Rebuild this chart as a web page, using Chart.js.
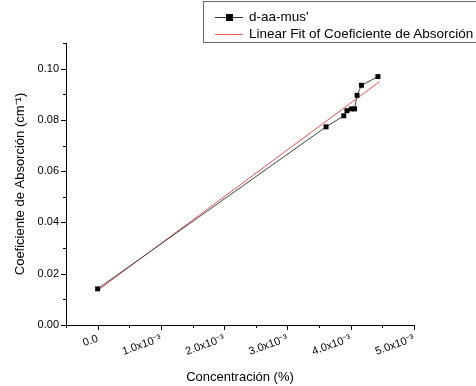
<!DOCTYPE html>
<html>
<head>
<meta charset="utf-8">
<script src="https://cdn.jsdelivr.net/npm/chart.js@4.4.1/dist/chart.umd.min.js"></script>
<style>
  body { margin: 0; background: #fff; font-family: "Liberation Sans", Arial, sans-serif; }
  #wrap { position: relative; width: 476px; height: 386px; }
  #legend { position: absolute; left: 203px; top: 1px; width: 290px; height: 40px; border: 1px solid #666; font-size: 13.5px; color: #000; }
  .row { position: absolute; left: 11px; height: 16px; line-height: 16px; }
  .sample { position: absolute; left: 0; top: 8px; width: 28px; height: 1px; }
  .sq { position: absolute; left: 11px; top: 5px; width: 7px; height: 7px; background: #000; }
  .lbl { position: absolute; left: 34px; top: 0; white-space: nowrap; }
</style>
</head>
<body>
<div id="wrap">
  <canvas id="chart" width="476" height="386"></canvas>
  <div id="legend">
    <div class="row" style="top:7px"><div class="sample" style="background:#333"></div><div class="sq"></div><div class="lbl">d-aa-mus'</div></div>
    <div class="row" style="top:24px"><div class="sample" style="background:#f06060"></div><div class="lbl">Linear Fit of Coeficiente de Absorción</div></div>
  </div>
</div>
<script>
// datos
const concentracion = [0, 0.00361, 0.00389, 0.00394, 0.00401, 0.00406, 0.00410, 0.00417, 0.00443];
const absorcion = [0.0141, 0.0773, 0.0816, 0.0836, 0.0843, 0.0843, 0.0896, 0.0935, 0.0969];
const ajusteX = [0, 0.00445];
const ajusteY = [0.0135, 0.0948];
const xTickLabels = { 0: "0.0", 1: "1.0x10⁻³", 2: "2.0x10⁻³", 3: "3.0x10⁻³", 4: "4.0x10⁻³", 5: "5.0x10⁻³" };

const font = "'Liberation Sans', Arial, sans-serif";

// marcas de ejes: mayores largas, menores cortas
const tickMarks = {
    id: "tickMarks",
    afterDraw(chart) {
        const ctx = chart.ctx;
        const xs = chart.scales.x, ys = chart.scales.y;
        ctx.save();
        ctx.strokeStyle = "#000";
        ctx.lineWidth = 1;
        ctx.beginPath();
        xs.ticks.forEach(t => {
            const k = Math.round(t.value / 0.0005);
            const px = Math.round(xs.getPixelForValue(t.value)) + 0.5;
            const len = k % 2 === 0 ? 5 : 3;
            ctx.moveTo(px, ys.bottom);
            ctx.lineTo(px, ys.bottom + len);
        });
        ys.ticks.forEach(t => {
            const k = Math.round(t.value / 0.01);
            const py = Math.round(ys.getPixelForValue(t.value)) + 0.5;
            const len = k % 2 === 0 ? 5 : 3;
            ctx.moveTo(xs.left, py);
            ctx.lineTo(xs.left - len, py);
        });
        ctx.stroke();
        ctx.restore();
    }
};

new Chart(document.getElementById("chart"), {
    type: "scatter",
    data: {
        datasets: [{
            label: "d-aa-mus'",
            data: concentracion.map((x, i) => ({ x, y: absorcion[i] })),
            showLine: true,
            borderColor: "#444",
            borderWidth: 1,
            pointStyle: "rect",
            pointRadius: 3.5,
            pointBackgroundColor: "#000",
            pointBorderColor: "#000",
            pointBorderWidth: 0
        }, {
            label: "Linear Fit of Coeficiente de Absorción",
            data: ajusteX.map((x, i) => ({ x, y: ajusteY[i] })),
            showLine: true,
            borderColor: "#f05050",
            borderWidth: 1,
            pointRadius: 0
        }]
    },
    options: {
        responsive: false,
        animation: false,
        layout: { padding: { top: 43, right: 62, left: 0, bottom: 0 } },
        plugins: { legend: { display: false }, tooltip: { enabled: false } },
        scales: {
            x: {
                type: "linear",
                min: -0.0005,
                max: 0.005,
                afterFit: s => { s.height = 61; },
                grid: { display: false, drawTicks: false },
                border: { display: true, color: "#000", width: 1 },
                ticks: {
                    stepSize: 0.0005,
                    autoSkip: false,
                    minRotation: 20,
                    maxRotation: 20,
                    padding: 7,
                    color: "#000",
                    font: { family: font, size: 11 },
                    callback: v => {
                        const k = Math.round(v / 0.0005);
                        return k >= 0 && k % 2 === 0 ? xTickLabels[k / 2] : "";
                    }
                },
                title: { display: true, text: "Concentración (%)", color: "#000", font: { family: font, size: 13 }, padding: { top: 0, bottom: 1 } }
            },
            y: {
                min: 0,
                max: 0.11,
                afterFit: s => { s.width = 66; },
                grid: { display: false, drawTicks: false },
                border: { display: true, color: "#000", width: 1 },
                ticks: {
                    stepSize: 0.01,
                    autoSkip: false,
                    padding: 7,
                    color: "#000",
                    font: { family: font, size: 11 },
                    callback: v => {
                        const k = Math.round(v / 0.01);
                        return k % 2 === 0 ? (k / 100).toFixed(2) : "";
                    }
                },
                title: { display: true, text: "Coeficiente de Absorción (cm⁻¹)", color: "#000", font: { family: font, size: 13 }, padding: { top: 13, bottom: 0 } }
            }
        }
    },
    plugins: [tickMarks]
});
</script>
</body>
</html>
